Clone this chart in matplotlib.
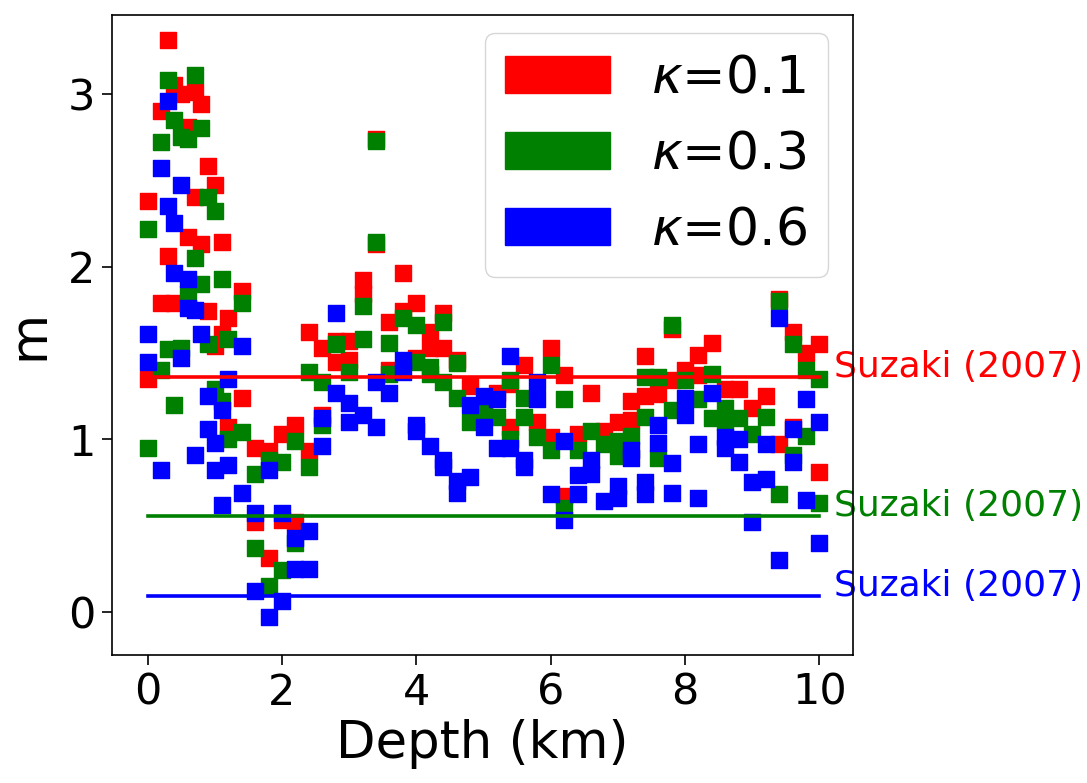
import matplotlib
matplotlib.use("Agg")
import matplotlib.pyplot as plt
from matplotlib.patches import Patch

# ---- data ----
red_depth = [0.0, 0.0, 0.2, 0.2, 0.3, 0.3, 0.4, 0.4, 0.5, 0.6, 0.6, 0.7, 0.7, 0.8, 0.8,
             0.9, 0.9, 1.0, 1.0, 1.1, 1.1, 1.2, 1.2, 1.4, 1.4, 1.6, 1.6, 1.8, 1.8, 2.0, 2.0,
             2.2, 2.2, 2.4, 2.4, 2.6, 2.6, 2.8, 2.8, 3.0, 3.0, 3.2, 3.2, 3.4, 3.4, 3.6, 3.6,
             3.8, 3.8, 4.0, 4.0, 4.2, 4.2, 4.4, 4.4, 4.6, 4.8, 5.0, 5.2, 5.4, 5.4, 5.6, 5.8,
             6.0, 6.0, 6.2, 6.2, 6.4, 6.6, 6.8, 7.0, 7.2, 7.2, 7.4, 7.4, 7.6, 7.8, 7.8, 8.0,
             8.2, 8.2, 8.4, 8.6, 8.8, 9.0, 9.2, 9.4, 9.4, 9.6, 9.6, 9.8, 10.0, 10.0]
red_m = [2.38, 1.35, 2.90, 1.79, 3.31, 2.06, 3.05, 1.79, 3.00, 2.81, 2.17, 3.01, 2.40, 2.94, 2.13,
         2.58, 1.74, 2.47, 1.54, 2.14, 1.61, 1.70, 1.07, 1.86, 1.24, 0.95, 0.52, 0.93, 0.31, 1.03, 0.53,
         1.08, 0.52, 1.62, 0.93, 1.53, 1.14, 1.45, 1.57, 1.57, 1.46, 1.92, 1.84, 2.74, 2.13, 1.68, 1.40,
         1.96, 1.74, 1.79, 1.47, 1.62, 1.53, 1.73, 1.53, 1.46, 1.31, 1.20, 1.27, 1.32, 1.07, 1.43, 1.10,
         1.53, 1.01, 1.37, 0.67, 1.03, 1.27, 1.05, 1.10, 1.22, 1.11, 1.48, 1.25, 1.26, 1.64, 1.34, 1.40,
         1.49, 1.37, 1.56, 1.29, 1.29, 1.18, 1.25, 1.81, 0.97, 1.62, 1.07, 1.50, 1.55, 0.81]

green_depth = [0.0, 0.0, 0.2, 0.2, 0.3, 0.3, 0.4, 0.4, 0.5, 0.5, 0.6, 0.6, 0.7, 0.7, 0.8, 0.8,
               0.9, 0.9, 1.0, 1.0, 1.1, 1.1, 1.2, 1.2, 1.4, 1.4, 1.6, 1.6, 1.8, 1.8, 2.0, 2.0,
               2.2, 2.2, 2.4, 2.4, 2.6, 2.6, 2.8, 3.0, 3.2, 3.2, 3.4, 3.4, 3.6, 3.6, 3.8,
               4.0, 4.0, 4.2, 4.2, 4.4, 4.4, 4.6, 4.6, 4.8, 5.0, 5.2, 5.4, 5.4, 5.6, 5.6, 5.8,
               6.0, 6.0, 6.2, 6.2, 6.4, 6.6, 6.8, 7.0, 7.0, 7.2, 7.4, 7.4, 7.6, 7.6, 7.8, 7.8,
               8.0, 8.2, 8.4, 8.4, 8.6, 8.6, 8.8, 9.0, 9.2, 9.4, 9.4, 9.6, 9.6, 9.8, 9.8, 10.0, 10.0]
green_m = [2.22, 0.95, 2.72, 1.40, 3.08, 1.52, 2.85, 1.20, 2.75, 1.53, 2.74, 1.84, 3.11, 2.05, 2.80, 1.90,
           2.40, 1.55, 2.32, 1.29, 1.93, 1.22, 1.58, 1.00, 1.79, 1.04, 0.80, 0.37, 0.88, 0.15, 0.87, 0.24,
           0.99, 0.40, 1.39, 0.84, 1.33, 1.08, 1.55, 1.39, 1.77, 1.58, 2.73, 2.14, 1.56, 1.38, 1.70,
           1.66, 1.45, 1.42, 1.38, 1.68, 1.33, 1.44, 1.24, 1.10, 1.17, 1.13, 1.34, 1.00, 1.24, 1.13, 1.01,
           1.43, 0.94, 1.23, 0.60, 0.94, 1.05, 0.97, 0.99, 0.90, 1.02, 1.36, 1.13, 1.36, 0.89, 1.66, 1.17,
           1.34, 1.23, 1.38, 1.12, 1.18, 1.10, 1.12, 1.03, 1.13, 1.80, 0.68, 1.55, 0.91, 1.40, 1.02, 1.35, 0.63]

blue_depth = [0.0, 0.0, 0.2, 0.2, 0.3, 0.3, 0.4, 0.4, 0.5, 0.5, 0.6, 0.6, 0.7, 0.7, 0.8,
              0.9, 0.9, 1.0, 1.0, 1.1, 1.1, 1.2, 1.2, 1.4, 1.4, 1.6, 1.6, 1.8, 1.8, 2.0, 2.0,
              2.2, 2.2, 2.4, 2.4, 2.6, 2.6, 2.8, 2.8, 3.0, 3.0, 3.2, 3.4, 3.4, 3.6, 3.8, 3.8,
              4.0, 4.0, 4.2, 4.4, 4.4, 4.6, 4.6, 4.8, 4.8, 5.0, 5.0, 5.2, 5.2, 5.4, 5.4, 5.6, 5.6,
              5.8, 5.8, 6.0, 6.2, 6.2, 6.4, 6.4, 6.6, 6.6, 6.8, 7.0, 7.0, 7.2, 7.2, 7.4, 7.4,
              7.6, 7.6, 7.8, 7.8, 8.0, 8.0, 8.2, 8.2, 8.4, 8.6, 8.6, 8.8, 8.8, 9.0, 9.0, 9.2, 9.2,
              9.4, 9.4, 9.6, 9.6, 9.8, 9.8, 10.0, 10.0]
blue_m = [1.61, 1.45, 2.57, 0.82, 2.96, 2.35, 2.25, 1.96, 2.47, 1.47, 1.93, 1.76, 1.75, 0.91, 1.61,
          1.25, 1.06, 0.98, 0.82, 1.17, 0.62, 1.35, 0.85, 1.54, 0.69, 0.57, 0.12, 0.82, -0.03, 0.57, 0.06,
          0.43, 0.25, 0.47, 0.25, 1.12, 0.96, 1.73, 1.27, 1.21, 1.10, 1.14, 1.33, 1.07, 1.27, 1.46, 1.39,
          1.08, 1.05, 0.96, 0.88, 0.84, 0.76, 0.69, 1.20, 0.78, 1.25, 1.07, 1.23, 0.95, 1.48, 0.95, 0.88, 0.84,
          1.33, 1.23, 0.68, 0.99, 0.53, 0.79, 0.68, 0.88, 0.80, 0.64, 0.73, 0.66, 0.94, 0.89, 0.75, 0.68,
          1.08, 0.98, 0.86, 0.69, 1.24, 1.14, 0.97, 0.66, 1.27, 1.01, 0.95, 1.00, 0.87, 0.75, 0.52, 0.97, 0.77,
          1.70, 0.30, 1.06, 0.87, 1.23, 0.65, 1.10, 0.40]

kappa_labels = [r"$\kappa$=0.1", r"$\kappa$=0.3", r"$\kappa$=0.6"]
series_colors = ["red", "green", "blue"]
suzaki_m = [1.36, 0.555, 0.09]
suzaki_range = [0, 10]
suzaki_label = "Suzaki (2007)"

# ---- figure ----
fig = plt.figure(figsize=(10.87, 7.83), dpi=100)
ax = fig.add_axes([112 / 1087, 1 - 655 / 783, (853 - 112) / 1087, (655 - 15) / 783])

series = [(red_depth, red_m), (green_depth, green_m), (blue_depth, blue_m)]
for (dd, mm), c in zip(series, series_colors):
    ax.scatter(dd, mm, marker="s", s=125, color=c, zorder=2)

for val, c in zip(suzaki_m, series_colors):
    ax.plot(suzaki_range, [val, val], color=c, lw=2.6, zorder=3)
    ax.text(10.21, val, suzaki_label, color=c, fontsize=26,
            ha="left", va="baseline", zorder=1, clip_on=False)

ax.set_xlim(-0.53, 10.5)
ax.set_ylim(-0.25, 3.457)
ax.set_xticks([0, 2, 4, 6, 8, 10])
ax.set_yticks([0, 1, 2, 3])
ax.tick_params(labelsize=31, length=7, width=1.2, pad=5)
for sp in ax.spines.values():
    sp.set_linewidth(1.2)
    sp.set_zorder(5)
ax.set_xlabel("Depth (km)", fontsize=37, labelpad=4)
ax.set_ylabel("m", fontsize=37, labelpad=10)

handles = [Patch(facecolor=c, edgecolor=c) for c in series_colors]
ax.legend(handles, kappa_labels, loc="upper right", fontsize=37.5,
          bbox_to_anchor=(0.9663, 0.9719), borderaxespad=0)

fig.savefig("out.png", dpi=100)
